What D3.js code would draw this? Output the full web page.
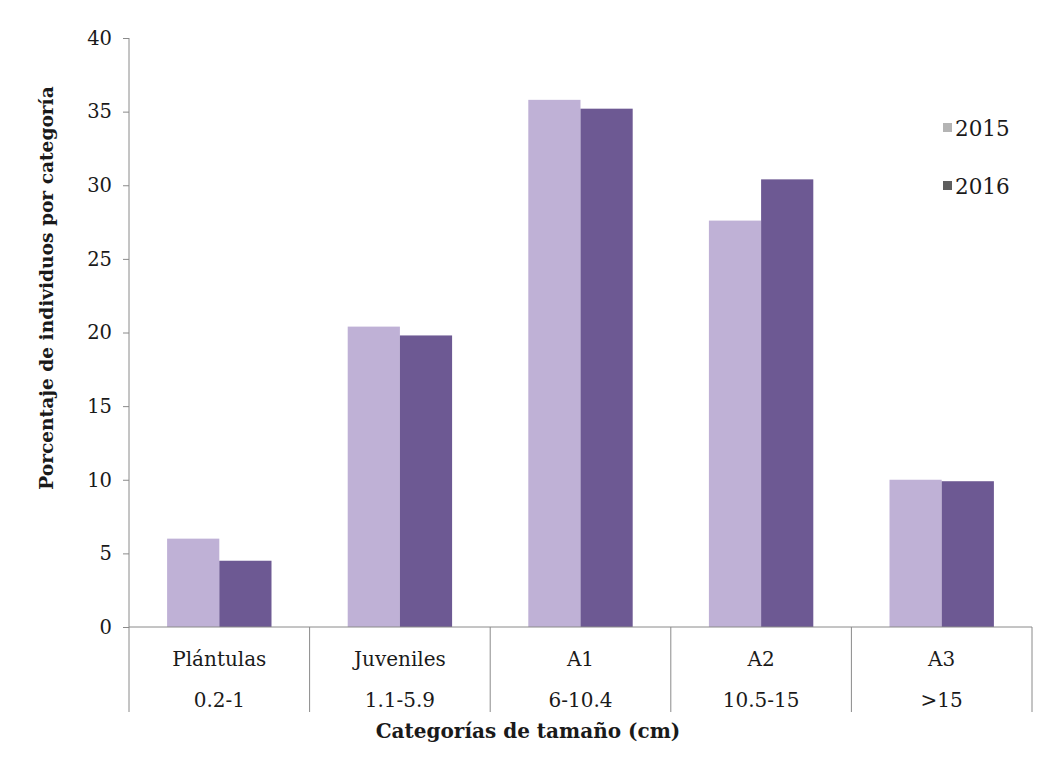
<!DOCTYPE html>
<html>
<head>
<meta charset="utf-8">
<script src="https://cdn.jsdelivr.net/npm/d3@7"></script>
<style>
  body { margin: 0; background: #fff; }
  svg text { font-family: "DejaVu Serif", serif; fill: #1a1a1a; }
</style>
</head>
<body>
<div class="container"></div>
<script>
var categories = ['Plántulas', 'Juveniles', 'A1', 'A2', 'A3'];
var ranges = ['0.2-1', '1.1-5.9', '6-10.4', '10.5-15', '>15'];
var years = ['2015', '2016'];
var values2015 = [6.0, 20.4, 35.8, 27.6, 10.0];
var values2016 = [4.5, 19.8, 35.2, 30.4, 9.9];
var yTicks = [0, 5, 10, 15, 20, 25, 30, 35, 40];

const WIDTH = 1052;
const HEIGHT = 771;
const LEFT = 129;
const RIGHT = 1032;
const TOP = 38;
const BASE = 627;
const COLORS = { '2015': '#bfb1d6', '2016': '#6d5993' };
const SWATCH = { '2015': '#b4b4b4', '2016': '#5e5e5e' };

var series = { '2015': values2015, '2016': values2016 };

var x0 = d3.scaleBand().domain(categories).range([LEFT, RIGHT]).padding(0);
var x1 = d3.scaleBand().domain(years).range([0, x0.bandwidth()])
    .paddingInner(0).paddingOuter(0.73);
var y = d3.scaleLinear().domain([0, 40]).range([BASE, TOP]);

var svg = d3.select('.container').append('svg')
    .attr('width', WIDTH)
    .attr('height', HEIGHT);

// bars
categories.forEach(function (cat, i) {
    svg.append('g')
        .attr('transform', 'translate(' + x0(cat) + ',0)')
        .selectAll('rect').data(years)
        .enter().append('rect')
        .attr('x', function (yr) { return x1(yr); })
        .attr('y', function (yr) { return y(series[yr][i]); })
        .attr('width', x1.bandwidth())
        .attr('height', function (yr) { return BASE - y(series[yr][i]); })
        .attr('fill', function (yr) { return COLORS[yr]; });
});

// y axis
var yAxis = svg.append('g')
    .attr('transform', 'translate(' + LEFT + ',0)')
    .call(d3.axisLeft(y).tickValues(yTicks).tickSize(6).tickPadding(11));
yAxis.select('.domain').remove();
yAxis.selectAll('line').attr('stroke', '#8a8a8a');
yAxis.selectAll('text').attr('font-size', 19.5).attr('fill', '#1a1a1a')
    .style('font-family', '"DejaVu Serif", serif');

// axis lines
svg.append('line')
    .attr('x1', LEFT).attr('x2', LEFT)
    .attr('y1', TOP).attr('y2', 712)
    .attr('stroke', '#8a8a8a');
svg.append('line')
    .attr('x1', LEFT).attr('x2', RIGHT)
    .attr('y1', BASE).attr('y2', BASE)
    .attr('stroke', '#8a8a8a');

// category dividers
var bounds = categories.map(function (c) { return x0(c) + x0.bandwidth(); });
svg.selectAll('.divider').data(bounds)
    .enter().append('line')
    .attr('class', 'divider')
    .attr('x1', function (d) { return d; })
    .attr('x2', function (d) { return d; })
    .attr('y1', BASE).attr('y2', 712)
    .attr('stroke', '#8a8a8a');

// x labels (two rows)
var xAxis = svg.append('g')
    .attr('transform', 'translate(0,' + BASE + ')')
    .call(d3.axisBottom(x0).tickSize(0).tickPadding(25));
xAxis.select('.domain').remove();
xAxis.selectAll('text').attr('font-size', 20).attr('fill', '#1a1a1a')
    .style('font-family', '"DejaVu Serif", serif');
xAxis.selectAll('.tick').append('text')
    .attr('y', 80)
    .attr('text-anchor', 'middle')
    .attr('font-size', 20)
    .attr('fill', '#1a1a1a')
    .style('font-family', '"DejaVu Serif", serif')
    .text(function (d, i) { return ranges[i]; });

// axis titles
svg.append('text')
    .attr('x', 528).attr('y', 738)
    .attr('text-anchor', 'middle')
    .attr('font-size', 20)
    .attr('font-weight', 'bold')
    .text('Categorías de tamaño (cm)');

svg.append('text')
    .attr('transform', 'translate(53,288) rotate(-90)')
    .attr('text-anchor', 'middle')
    .attr('font-size', 18.6)
    .attr('font-weight', 'bold')
    .text('Porcentaje de individuos por categoría');

// legend
var legend = svg.selectAll('.legend').data(years)
    .enter().append('g')
    .attr('class', 'legend')
    .attr('transform', function (d, i) { return 'translate(943,' + (128 + i * 58) + ')'; });
legend.append('rect')
    .attr('x', 0).attr('y', -5)
    .attr('width', 9).attr('height', 9)
    .attr('fill', function (d) { return SWATCH[d]; });
legend.append('text')
    .attr('x', 12).attr('y', 8)
    .attr('font-size', 21.5)
    .text(function (d) { return d; });
</script>
</body>
</html>
